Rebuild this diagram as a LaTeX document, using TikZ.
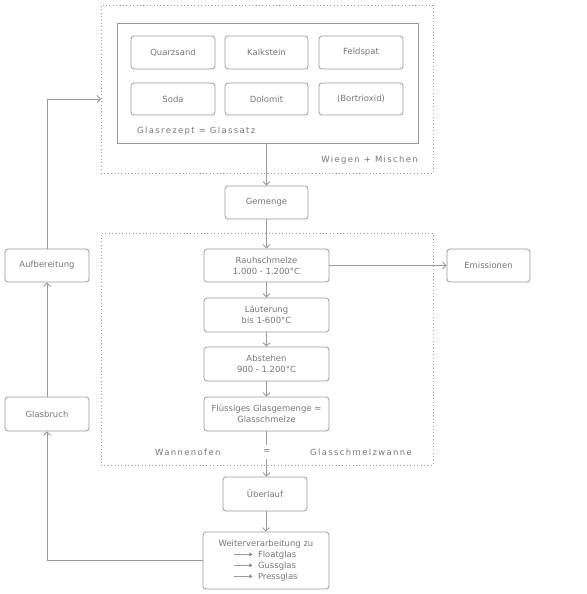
\documentclass[tikz,border=0pt]{standalone}
\usepackage{fontspec}
\setmainfont{DejaVu Sans}
\newfontfamily\spacedfont[LetterSpace=16]{DejaVu Sans}
\usetikzlibrary{arrows.meta}
\definecolor{linec}{HTML}{9A9A9A}
\definecolor{textc}{HTML}{767676}
\newcommand{\longarr}{\resizebox{20bp}{\height}{⟶}\hspace{5bp}}
\tikzset{
  x=1bp, y=-1bp,
  every node/.style={font=\fontsize{8.5}{11}\selectfont, text=textc},
  box/.style={draw=linec, line width=0.8bp, rounded corners=3bp, align=center, inner sep=0pt},
  framebox/.style={draw=linec, line width=0.8bp, inner sep=0pt},
  dotbox/.style={draw=linec, line width=0.8bp, dash pattern=on 0.8bp off 2.6bp, inner sep=0pt},
  arr/.style={draw=linec, line width=0.8bp, -{Straight Barb[length=3.5bp,width=7bp]}},
  lbl/.style={font=\spacedfont\fontsize{8.5}{11}\selectfont, inner sep=0pt},
}
\begin{document}
\begin{tikzpicture}
\useasboundingbox (0,0) rectangle (587,594);
% outer dotted groups
\node[dotbox, minimum width=332bp, minimum height=168bp] (mix) at (267,89) {};
\node[dotbox, minimum width=332bp, minimum height=232bp] (ofen) at (267,349) {};
% recipe frame
\node[framebox, minimum width=301bp, minimum height=120bp] (rezept) at (267.5,83) {};
% raw materials
\node[box, minimum width=84bp, minimum height=33bp] (quarz) at (173,52.5) {Quarzsand};
\node[box, minimum width=83bp, minimum height=33bp] (kalk) at (266.5,52.5) {Kalkstein};
\node[box, minimum width=84bp, minimum height=33bp] (feld) at (361,52.5) {Feldspat};
\node[box, minimum width=84bp, minimum height=32bp] (soda) at (173,99) {Soda};
\node[box, minimum width=83bp, minimum height=32bp] (dolo) at (266.5,99) {Dolomit};
\node[box, minimum width=84bp, minimum height=32bp] (bor) at (361,99) {(Bortrioxid)};
\node[lbl, anchor=west] (rezlbl) at (137,131) {Glasrezept = Glassatz};
\node[lbl, anchor=east] (mixlbl) at (418,160) {Wiegen + Mischen};
% main chain
\node[box, minimum width=83bp, minimum height=33bp] (gemenge) at (266.5,202.5) {Gemenge};
\node[box, minimum width=125bp, minimum height=33bp] (rauh) at (266.5,265.5) {Rauhschmelze\\1.000 - 1.200°C};
\node[box, minimum width=125bp, minimum height=34bp] (laeut) at (266.5,315) {Läuterung\\bis 1-600°C};
\node[box, minimum width=125bp, minimum height=34bp] (abst) at (266.5,364) {Abstehen\\900 - 1.200°C};
\node[box, minimum width=125bp, minimum height=34bp] (fluess) at (266.5,414) {Flüssiges Glasgemenge =\\Glasschmelze};
\node[box, minimum width=84bp, minimum height=34bp] (ueber) at (265,494) {Überlauf};
\node[box, minimum width=126bp, minimum height=57bp] (weiter) at (266,560.5)
  {Weiterverarbeitung zu\\
   \makebox[66bp][l]{\longarr Floatglas}\\
   \makebox[66bp][l]{\longarr Gussglas}\\
   \makebox[66bp][l]{\longarr Pressglas}};
\node[box, minimum width=83bp, minimum height=33bp] (emis) at (488.5,265.5) {Emissionen};
\node[box, minimum width=84bp, minimum height=33bp] (aufb) at (47,265.5) {Aufbereitung};
\node[box, minimum width=84bp, minimum height=34bp] (glasb) at (47,414) {Glasbruch};
\coordinate (feed) at (101,99);
% connectors
\draw[arr] (rezept.south -| gemenge.north) -- (gemenge.north);
\draw[arr] (gemenge) -- (rauh);
\draw[arr] (rauh) -- (laeut);
\draw[arr] (laeut) -- (abst);
\draw[arr] (abst) -- (fluess);
\draw[arr] (fluess.south) -- (fluess.south |- ueber.north);
\draw[arr] (ueber.south -| weiter.north) -- (weiter.north);
\draw[arr] (rauh) -- (emis);
\draw[arr] (weiter.west) -| (glasb.south);
\draw[arr] (glasb) -- (aufb);
\draw[arr] (aufb.north) |- (feed);
% oven label (over the line)
\node[lbl, anchor=west] (ofl1) at (155,452) {Wannenofen};
\node[lbl, fill=white, inner xsep=3bp, inner ysep=5bp] (ofl2) at (267,452) {=};
\node[lbl, anchor=east] (ofl3) at (412,452) {Glasschmelzwanne};
\end{tikzpicture}
\end{document}
